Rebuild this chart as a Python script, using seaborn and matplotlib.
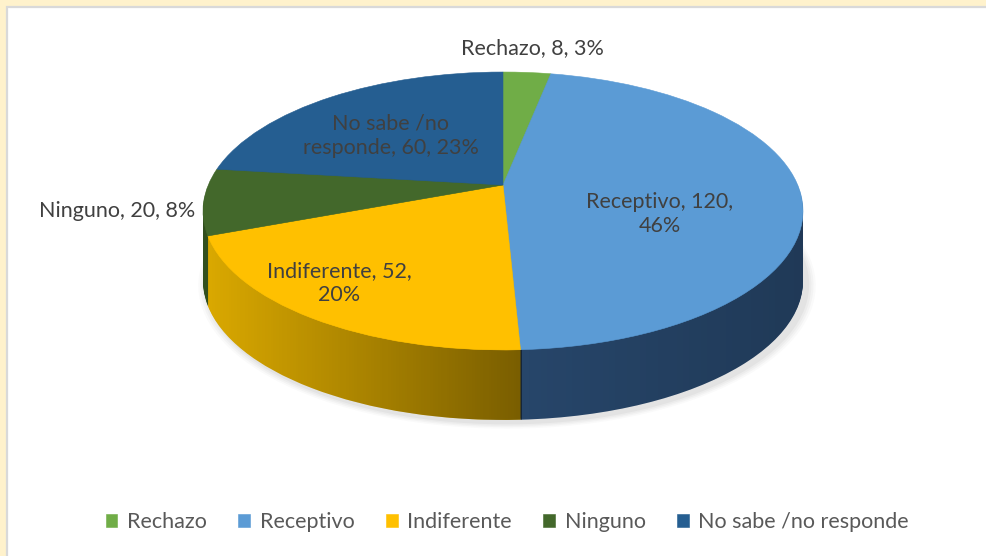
import numpy as np
import seaborn as sns
import matplotlib
matplotlib.use("Agg")
import matplotlib.pyplot as plt
from matplotlib.transforms import Transform
from matplotlib.patches import Rectangle, Polygon, Ellipse

# data
categories = ["Rechazo", "Receptivo", "Indiferente", "Ninguno", "No sabe /no responde"]
counts = [8, 120, 52, 20, 60]
percents = ["3%", "46%", "20%", "8%", "23%"]
top_colors = ["#70AD47", "#5B9BD5", "#FFC000", "#43682B", "#255E91"]
side_colors = ["#4f7a31", "#27466a", "#dcaa00", "#33501f", "#1b4670"]

sns.set_style("white")
plt.rcParams["font.family"] = ["Lato", "DejaVu Sans"]

W, H = 987, 556
fig = plt.figure(figsize=(W / 100, H / 100), dpi=100, facecolor="#FFF2CC")

# white chart area with thin grey border
fig.add_artist(Rectangle((7 / W, -0.02), 1.0, 1 - 7 / H + 0.02, transform=fig.transFigure,
                         facecolor="white", edgecolor="#D9D9D9", linewidth=1.6, zorder=0))

ax = fig.add_axes([0, 0, 1, 1])
ax.patch.set_alpha(0)

# perspective of a tilted disc, pie coords -> pixel coords
CX, CY, SX, C, B = 503, 185, 294.7, 134.1, 0.187
DEPTH = 70


class Persp(Transform):
    input_dims = output_dims = 2

    def __init__(self, drop=0.0, dx=0.0):
        super().__init__()
        self.drop = drop
        self.dx = dx

    def transform_non_affine(self, v):
        v = np.atleast_2d(np.asarray(v, float))
        x, y = v[:, 0], v[:, 1]
        w = 1 + B * y
        return np.column_stack([CX + SX * x / w + self.dx, CY - C * y / w + self.drop])


# soft shadow under the disc
for i, a in enumerate([0.04, 0.05, 0.06, 0.08]):
    s = 2.0 + 0.014 * (4 - i)
    sh = Ellipse((0, 0), s, s, facecolor="grey", edgecolor="none", alpha=a, zorder=0.5)
    ax.add_patch(sh)
    sh.set_transform(Persp(DEPTH + 3, 4) + ax.transData)

# side of the 3D pie: stacked pies moving up
for d in range(DEPTH, 0, -1):
    wedges, _ = ax.pie(counts, colors=side_colors, startangle=90, counterclock=False,
                       wedgeprops=dict(linewidth=0))
    for w in wedges:
        w.set_transform(Persp(d) + ax.transData)
        w.set_zorder(1)

# horizontal shading of the side
th1 = np.radians(np.linspace(190.8, 349.2, 80))
upper = Persp(0).transform(np.column_stack([np.cos(th1), np.sin(th1)]))
lower = Persp(DEPTH).transform(np.column_stack([np.cos(th1[::-1]), np.sin(th1[::-1])]))
split_x = Persp(0).transform([[np.cos(np.radians(-87.05)), np.sin(np.radians(-87.05))]])[0, 0]
for x0, x1, amax in [(200, split_x, 0.45), (split_x, 805, 0.18)]:
    band = Polygon(np.vstack([upper, lower]), closed=True, transform=ax.transData)
    grad = np.zeros((1, 256, 4))
    grad[0, :, 3] = np.linspace(0.0, amax, 256)
    im = ax.imshow(grad, extent=[x0, x1, 430, 190], aspect="auto", interpolation="bilinear",
                   zorder=2)
    im.set_clip_path(band)

# top face
top, _ = ax.pie(counts, colors=top_colors, startangle=90, counterclock=False,
                wedgeprops=dict(linewidth=0.4))
for w, c in zip(top, top_colors):
    w.set_edgecolor(c)
    w.set_transform(Persp(0) + ax.transData)
    w.set_zorder(3)

# data labels
lab_col = "#404040"
fs = 15.5
ls = 1.3
ax.text(532, 48, f"{categories[0]}, {counts[0]}, {percents[0]}", ha="center", va="center",
        fontsize=fs, color=lab_col, zorder=5)
ax.text(660, 214, f"{categories[1]}, {counts[1]},\n{percents[1]}", ha="center", va="center",
        fontsize=fs, color=lab_col, linespacing=ls, zorder=5)
ax.text(339, 283, f"{categories[2]}, {counts[2]},\n{percents[2]}", ha="center", va="center",
        fontsize=fs, color=lab_col, linespacing=ls, zorder=5)
ax.text(117, 211, f"{categories[3]}, {counts[3]}, {percents[3]}", ha="center", va="center",
        fontsize=fs, color=lab_col, zorder=5)
ax.text(391, 136, "No sabe /no\nresponde, " + f"{counts[4]}, {percents[4]}", ha="center",
        va="center", fontsize=fs, color=lab_col, linespacing=ls, zorder=5)

ax.set_xlim(0, W)
ax.set_ylim(H, 0)
ax.set_aspect("auto")
ax.axis("off")

fig.legend(handles=top, labels=categories, loc="center", bbox_to_anchor=(0.514, 1 - 522 / H),
           ncol=5, frameon=False, fontsize=15.5, handlelength=0.55, handleheight=0.55,
           handletextpad=0.45, columnspacing=1.45, labelcolor="#595959")

fig.savefig("out.png", dpi=100, facecolor=fig.get_facecolor())
